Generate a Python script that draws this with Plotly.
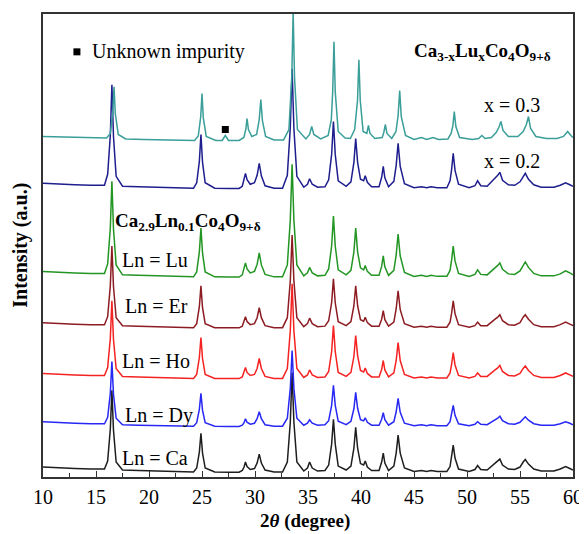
import plotly.graph_objects as go

# ---- shared 2-theta grid for the Ca/Dy/Ho/Er/Lu and x=0.2 patterns ----
X_LN = [
    10.0, 11.5, 13.0, 14.5, 15.8,
    16.1, 16.35, 16.5, 16.65, 16.9,
    17.5, 19.0, 20.5, 22.5, 24.2,
    24.5, 24.75, 24.9, 25.05, 25.3,
    26.2, 27.5, 28.5,
    28.8, 28.97, 29.1, 29.25, 29.55,
    29.95, 30.2, 30.4, 30.6, 30.95,
    31.8, 32.6,
    33.05, 33.33, 33.5, 33.67, 33.95,
    34.6,
    34.95, 35.15, 35.4,
    35.9, 36.6, 36.95,
    37.23, 37.4, 37.57, 37.85,
    38.6, 39.05,
    39.33, 39.5, 39.68, 39.95,
    40.25, 40.4, 40.6,
    41.0, 41.7,
    41.95, 42.1, 42.25,
    42.6,
    43.1, 43.32, 43.5, 43.7, 44.1,
    45.0, 45.7, 46.2, 46.6, 47.2, 48.1,
    48.4, 48.55, 48.7, 48.87, 49.2,
    50.2,
    50.75, 51.0, 51.3,
    51.9,
    52.3, 52.65, 52.9, 53.1, 53.35, 53.9, 54.5,
    55.0, 55.3, 55.5, 55.8, 56.3,
    57.0, 58.2,
    58.8, 59.3, 59.7, 60.0,
]

I_CA = [
    6, 5, 4.5, 4, 4,
    12, 44, 83, 43, 11,
    3, 2.5, 2, 1.5, 1,
    5, 21, 40, 20, 5,
    1, 0.8, 0.8,
    2.5, 6, 11, 6.5, 3.5,
    4.5, 10, 19, 10, 3,
    1, 1,
    11, 51, 101, 51, 11,
    2,
    5, 11, 5,
    2, 2.5, 8,
    29, 54, 29, 7,
    3, 7,
    25, 46, 25, 9.5,
    8, 12, 6,
    2.5, 2.5,
    11, 20, 10,
    2.5,
    7, 20, 38, 20, 5,
    1.5, 2.5, 1.5, 2.5, 1.5, 1.5,
    6.5, 16, 28, 15, 4,
    1.5,
    3.5, 7.5, 3.5,
    3,
    6.5, 9.5, 11.5, 14, 8, 4, 3.5,
    6, 11, 13.5, 9, 4,
    2, 2,
    4, 6.5, 4.5, 3,
]

I_DY = [
    5.5, 4.5, 4, 3.5, 3.5,
    10, 34, 66, 33, 9,
    2.5, 2, 1.5, 1, 1,
    4.5, 18, 34, 17, 4.5,
    1, 0.8, 0.8,
    2, 4.5, 8.5, 5, 3,
    4, 8.5, 15.5, 8.5, 2.5,
    1, 1,
    9, 39, 77, 39, 9,
    2,
    4, 7.5, 4,
    2, 2.5, 6.5,
    22, 42, 22, 6,
    2.5, 6,
    18.5, 35, 19, 7.5,
    6.5, 9.5, 5,
    2, 2,
    8, 14.5, 7.5,
    2,
    5.5, 15.5, 29, 15, 4,
    1.5, 2.5, 1.5, 2.5, 1.5, 1.5,
    5.5, 12.5, 22, 12, 3.5,
    1.5,
    3, 5.5, 3,
    2.5,
    5, 7.5, 9, 11, 6.5, 3.5, 3,
    5, 8.5, 10.5, 7, 3.5,
    2, 2,
    3.5, 5.5, 4, 2.5,
]

I_HO = [
    6, 5, 4.5, 4, 4,
    12, 41, 79, 40, 11,
    3, 2.5, 2, 1.5, 1,
    5, 22, 42, 21, 5,
    1, 0.8, 0.8,
    2.5, 7, 12, 7, 4,
    5, 11, 21, 11, 3,
    1, 1,
    11, 49, 96, 49, 11,
    2,
    4.5, 9.5, 4.5,
    2, 2.5, 8,
    28, 54, 28, 7,
    3, 7,
    23, 44, 24, 9,
    7.5, 11.5, 6,
    2.5, 2.5,
    10, 19, 9.5,
    2.5,
    6.5, 19, 37, 19, 5,
    1.5, 2.5, 1.5, 2.5, 1.5, 1.5,
    6.5, 15, 27, 14.5, 4,
    1.5,
    3, 6.5, 3,
    3,
    6, 9.5, 11.5, 14, 8, 4, 3.5,
    6, 11, 13.5, 9, 4,
    2, 2,
    4, 6.5, 4.5, 3,
]

I_ER = [
    6, 5, 4.5, 4, 4,
    12, 43, 83, 42, 11,
    3, 2.5, 2, 1.5, 1,
    5, 22, 43, 21, 5,
    1, 0.8, 0.8,
    2.5, 7, 12, 7, 4,
    5, 11, 21, 11, 3,
    1, 1,
    11, 48, 94, 48, 11,
    2,
    5, 10.5, 5,
    2, 2.5, 8,
    26, 50, 26, 7,
    3, 7,
    23, 43, 23, 9,
    7.5, 11.5, 6,
    2.5, 2.5,
    9.5, 18, 9,
    2.5,
    6.5, 20, 38, 19, 5,
    1.5, 2.5, 1.5, 2.5, 1.5, 1.5,
    6.5, 15.5, 28, 15, 4,
    1.5,
    3, 6.5, 3,
    3,
    6, 9.5, 11.5, 14, 8, 4, 3.5,
    6, 11.5, 14, 9.5, 4,
    2, 2,
    4, 6.5, 4.5, 3,
]

I_LU = [
    6.5, 5.5, 5, 4.5, 4.5,
    14, 50, 97, 49, 13,
    3, 2.5, 2, 1.5, 1,
    6, 26, 50, 25, 6,
    1, 0.8, 0.8,
    3, 8.5, 15, 9, 5,
    6.5, 13.5, 25, 13, 3.5,
    1, 1,
    13, 58, 114, 58, 13,
    2,
    5, 10.5, 5,
    2, 2.5, 9,
    32, 62, 32, 8,
    3, 7.5,
    26, 50, 26, 10,
    8, 12.5, 6.5,
    2.5, 2.5,
    11.5, 22, 11,
    2.5,
    7.5, 23, 44, 22, 5.5,
    1.5, 2.5, 1.5, 2.5, 1.5, 1.5,
    7.5, 18, 32, 17, 4.5,
    1.5,
    3.5, 8, 3.5,
    3,
    6.5, 10, 12.5, 15, 8.5, 4, 3.5,
    7, 13, 16, 10.5, 4.5,
    2, 2,
    4, 7, 5, 3,
]

I_X02 = [
    6, 5, 4.5, 4, 4,
    15, 54, 105, 53, 13,
    3, 2.5, 2, 1.5, 1,
    6.5, 28, 55, 27, 6.5,
    1, 0.8, 0.8,
    3, 9, 16, 9.5, 5,
    6.5, 14, 26, 13.5, 3.5,
    1, 1,
    14, 62, 121, 61, 13,
    2,
    5, 10.5, 5,
    2, 2.5, 9.5,
    35, 68, 35, 8.5,
    3, 7.5,
    27, 51, 27, 10,
    8.5, 13.5, 7,
    2.5, 2.5,
    12, 23, 11.5,
    2.5,
    8, 24, 46, 23, 5.5,
    1.5, 2.5, 1.5, 2.5, 1.5, 1.5,
    8.5, 20, 36, 19, 5,
    1.5,
    3.5, 8.5, 3.5,
    3,
    7, 11, 14, 17, 9, 4.5, 4,
    7.5, 13.5, 16, 10, 4.5,
    2, 2,
    4, 6.5, 4.5, 3,
]

# ---- x = 0.3 pattern (own grid, slightly shifted peaks) ----
X_X03 = [
    10.0, 11.5, 13.0, 14.5, 16.0,
    16.35, 16.58, 16.7, 16.82, 17.1,
    17.8, 19.5, 21.0, 22.5, 24.3,
    24.65, 24.88, 25.0, 25.12, 25.4,
    26.3, 26.9, 27.2, 27.5, 28.5,
    28.95, 29.13, 29.25, 29.38, 29.7,
    30.15, 30.4, 30.55, 30.7, 31.0,
    31.8, 32.7,
    33.2, 33.47, 33.6, 33.73, 34.0,
    34.8,
    35.15, 35.35, 35.55,
    36.2, 36.9,
    37.2, 37.33, 37.45, 37.57, 37.85,
    38.5, 39.0, 39.4,
    39.67, 39.8, 39.93, 40.2,
    40.55, 40.7, 40.85,
    41.3, 42.0, 42.15, 42.3, 42.45, 42.9,
    43.3, 43.5, 43.65, 43.8, 44.2,
    45.0, 45.7, 46.2, 46.8, 47.3, 48.2,
    48.5, 48.67, 48.8, 48.95, 49.3,
    50.5, 51.1, 51.4, 51.7, 52.3,
    52.75, 53.0, 53.2, 53.4, 53.9,
    54.8, 55.3, 55.6, 55.8, 56.0, 56.5,
    57.5, 58.5, 59.1, 59.5, 59.8, 60.0,
]
I_X03 = [
    5, 4.5, 4, 3.5, 3.5,
    8, 29, 55, 28, 7,
    2.5, 2, 1.5, 1, 1,
    5.5, 25, 48, 24, 5,
    1, 1, 6, 1, 1,
    4, 12, 23, 12, 5,
    7, 22, 42, 21, 5,
    1.5, 1.5,
    12, 65, 130, 64, 12,
    2.5,
    7, 15, 7,
    2.5, 6,
    22, 50, 100, 50, 10,
    3.5, 3, 12,
    41, 82, 41, 10,
    8, 16, 8,
    3, 4, 9, 17, 8, 3,
    10, 26, 51, 25, 6,
    2, 4, 2, 4, 2, 2.5,
    8, 16, 30, 15, 4,
    2, 3, 6, 3, 4,
    9, 14, 20, 11, 5,
    5, 10, 17, 25, 13, 5,
    3, 3, 5, 10, 6, 4,
]

# impurity peak of the x = 0.3 sample
IMPURITY_X = [27.2]
IMPURITY_I = [12]

for arr in (I_CA, I_DY, I_HO, I_ER, I_LU, I_X02):
    assert len(arr) == len(X_LN), len(arr)
assert len(I_X03) == len(X_X03), (len(I_X03), len(X_X03))

# ---- layout: vertical stacking offsets and colours ----
SERIES = [
    ("Ca", X_LN, I_CA, 4, "#1e1e1e"),
    ("Dy", X_LN, I_DY, 50, "#2828f5"),
    ("Ho", X_LN, I_HO, 98, "#f52222"),
    ("Er", X_LN, I_ER, 149, "#8c1c22"),
    ("Lu", X_LN, I_LU, 200, "#229522"),
    ("x=0.2", X_LN, I_X02, 289, "#1e1e8e"),
    ("x=0.3", X_X03, I_X03, 337, "#3a9e99"),
]

FONT = "Liberation Serif"

fig = go.Figure()
for name, xs, ys, off, col in SERIES:
    fig.add_trace(go.Scatter(
        x=xs, y=[v + off for v in ys], mode="lines", name=name,
        line=dict(color=col, width=1.5), showlegend=False, hoverinfo="skip"))

fig.add_trace(go.Scatter(
    x=IMPURITY_X, y=[v + 337 for v in IMPURITY_I], mode="markers",
    marker=dict(symbol="square", size=7, color="black"), showlegend=False))
fig.add_trace(go.Scatter(
    x=[13.2], y=[427], mode="markers",
    marker=dict(symbol="square", size=7, color="black"), showlegend=False))

ann = [
    dict(x=14.4, y=427, text="Unknown impurity", xanchor="left", size=20),
    dict(x=51.5, y=427, text="<b>Ca<sub>3-x</sub>Lu<sub>x</sub>Co<sub>4</sub>O<sub>9+δ</sub></b>", xanchor="center", size=19),
    dict(x=54.2, y=374, text="x = 0.3", xanchor="center", size=20),
    dict(x=54.2, y=317, text="x = 0.2", xanchor="center", size=20),
    dict(x=23.7, y=256, text="<b>Ca<sub>2.9</sub>Ln<sub>0.1</sub>Co<sub>4</sub>O<sub>9+δ</sub></b>", xanchor="center", size=19),
    dict(x=20.6, y=218, text="Ln = Lu", xanchor="center", size=20),
    dict(x=20.7, y=172, text="Ln = Er", xanchor="center", size=20),
    dict(x=20.7, y=117, text="Ln = Ho", xanchor="center", size=20),
    dict(x=20.9, y=62, text="Ln = Dy", xanchor="center", size=20),
    dict(x=20.6, y=19, text="Ln = Ca", xanchor="center", size=20),
]
for a in ann:
    fig.add_annotation(x=a["x"], y=a["y"], xref="x", yref="y", text=a["text"],
                       showarrow=False, xanchor=a["xanchor"], yanchor="middle",
                       font=dict(family=FONT, size=a["size"], color="black"))

fig.add_annotation(x=0.494, y=-0.0946, xref="paper", yref="paper",
                   text="<b>2<i>θ</i> (degree)</b>", showarrow=False,
                   xanchor="center", yanchor="middle",
                   font=dict(family=FONT, size=19, color="black"))
fig.add_annotation(x=-0.043, y=0.5, xref="paper", yref="paper",
                   text="<b>Intensity (a.u.)</b>", showarrow=False, textangle=-90,
                   xanchor="center", yanchor="middle",
                   font=dict(family=FONT, size=20, color="black"))

# the page body adds an 8 px margin, so the figure is 8 px smaller and
# its margins are reduced accordingly to keep the plot frame in place
fig.update_layout(
    width=579, height=526,
    margin=dict(l=35, r=12, t=4, b=57),
    paper_bgcolor="white", plot_bgcolor="white",
    font=dict(family=FONT, color="black"),
    xaxis=dict(range=[10, 60], tickmode="array",
               tickvals=[10, 15, 20, 25, 30, 35, 40, 45, 50, 55, 60],
               ticks="inside", ticklen=6, tickwidth=1.2, tickcolor="#333",
               minor=dict(dtick=2.5, ticks="inside", ticklen=4, tickwidth=1, tickcolor="#333"),
               showline=True, linecolor="#333", linewidth=1.5, mirror=True,
               showgrid=False, zeroline=False,
               tickfont=dict(family=FONT, size=20, color="black"),
               ticklabelstandoff=1),
    yaxis=dict(range=[0, 465], showticklabels=False, ticks="",
               showline=True, linecolor="#333", linewidth=1.5, mirror=True,
               showgrid=False, zeroline=False),
)

fig.write_html("out.html")
